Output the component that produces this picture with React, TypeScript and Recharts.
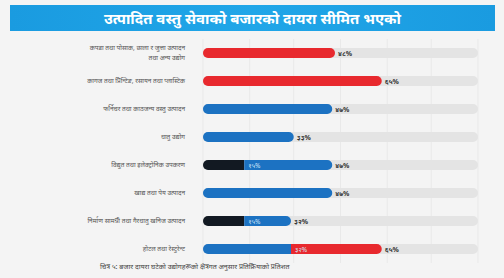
import React from 'react';
import { BarChart, Bar, XAxis, YAxis, CartesianGrid, LabelList } from 'recharts';

const categories = [
  ['कपडा तथा पोसाक, छाला र जुत्ता उत्पादन', 'तथा अन्य उद्योग'],
  ['कागज तथा प्रिन्टिङ, रसायन तथा प्लास्टिक'],
  ['फर्निचर तथा काठजन्य वस्तु उत्पादन'],
  ['धातु उद्योग'],
  ['विद्युत तथा इलेक्ट्रोनिक उपकरण'],
  ['खाद्य तथा पेय उत्पादन'],
  ['निर्माण सामग्री तथा गैरधातु खनिज उत्पादन'],
  ['होटल तथा रेस्टुरेन्ट'],
];
const firstPart = [48, 65, 47, 33, 15, 47, 15, 32];
const secondPart = [0, 0, 0, 0, 32, 0, 17, 33];
const firstColor = ['red', 'red', 'blue', 'blue', 'black', 'blue', 'black', 'blue'];
const secondColor = ['', '', '', '', 'blue', '', 'blue', 'red'];

const COLORS: Record<string, string> = {
  red: '#e8292e',
  blue: '#1c72c2',
  black: '#121922',
};

const toDev = (n: number) =>
  String(n).replace(/[0-9]/g, (d) => '०१२३४५६७८९'[Number(d)]);

const data = categories.map((c, i) => ({
  name: c.join('|'),
  a: firstPart[i],
  b: secondPart[i],
  total: firstPart[i] + secondPart[i],
}));

const FONT = '"Noto Sans", "DejaVu Sans", sans-serif';

// rounded only on the outer ends of the stack
function Segment(props: any) {
  const { x, y, width, height, index, dataKey } = props;
  if (!width || width <= 0) return null;
  const row = data[index];
  const isA = dataKey === 'a';
  const fill = COLORS[isA ? firstColor[index] : secondColor[index]];
  const r = height / 2;
  const roundLeft = isA;
  const roundRight = isA ? row.b === 0 : true;
  const rl = roundLeft ? Math.min(r, width / 2) : 0;
  const rr = roundRight ? Math.min(r, width / 2) : 0;
  const d = `M${x + rl},${y} H${x + width - rr} A${rr},${rr} 0 0 1 ${x + width},${y + rr} V${y + height - rr} A${rr},${rr} 0 0 1 ${x + width - rr},${y + height} H${x + rl} A${rl},${rl} 0 0 1 ${x},${y + height - rl} V${y + rl} A${rl},${rl} 0 0 1 ${x + rl},${y} Z`;
  return <path d={d} fill={fill} />;
}

function Track(props: any) {
  const { x, y, width, height } = props;
  return <rect x={x} y={y} width={width} height={height} rx={height / 2} fill="#e4e4e4" />;
}

function CategoryTick(props: any) {
  const { x, y, payload } = props;
  const lines = String(payload.value).split('|');
  const start = y - ((lines.length - 1) * 10) / 2;
  return (
    <text x={x - 10} textAnchor="end" fontSize={6.5} fill="#555" fontFamily={FONT}>
      {lines.map((l, i) => (
        <tspan key={i} x={x - 10} y={start + i * 10 + 2}>
          {l}
        </tspan>
      ))}
    </text>
  );
}

function TotalLabel(props: any) {
  const { x, y, width, height, index } = props;
  const row = data[index];
  const end = x + (width * row.total) / row.a;
  return (
    <text x={end + 3} y={y + height / 2 + 2.5} fontSize={7} fontWeight={700} fill="#333" fontFamily={FONT}>
      {toDev(row.total)}%
    </text>
  );
}

function InnerLabel(props: any) {
  const { x, y, width, height, index } = props;
  const row = data[index];
  if (row.b === 0) return null;
  return (
    <text x={x + width + 4} y={y + height / 2 + 2.5} fontSize={6.5} fill="#cfe3f7" fontFamily={FONT}>
      {toDev(row.a)}%
    </text>
  );
}

export default function App() {
  return (
    <div
      style={{
        position: 'fixed',
        left: 0,
        top: 0,
        width: 504,
        height: 278,
        background: '#f4f4f4',
        fontFamily: FONT,
        overflow: 'hidden',
      }}
    >
      <div
        style={{
          position: 'absolute',
          left: 10,
          top: 5,
          width: 485,
          height: 26,
          background: 'linear-gradient(90deg, #1a9be0, #20a6e8 50%, #1a9be0)',
          color: '#fff',
          fontSize: 15,
          fontWeight: 700,
          textAlign: 'center',
          lineHeight: '26px',
        }}
      >
        उत्पादित वस्तु सेवाको बजारको दायरा सीमित भएको
      </div>
      <div style={{ position: 'absolute', left: 0, top: 0 }}>
        <BarChart
          width={504}
          height={278}
          data={data}
          layout="vertical"
          barSize={10}
          margin={{ top: 39, right: 26, bottom: 15, left: 0 }}
        >
          <CartesianGrid horizontal={false} stroke="#e9e9e9" />
          <XAxis type="number" domain={[0, 100]} hide ticks={[0, 17, 33, 50, 67, 83, 100]} />
          <YAxis
            type="category"
            dataKey="name"
            width={203}
            axisLine={false}
            tickLine={false}
            tick={<CategoryTick />}
            interval={0}
          />
          <Bar
            dataKey="a"
            stackId="s"
            isAnimationActive={false}
            shape={<Segment dataKey="a" />}
            background={<Track />}
          >
            <LabelList dataKey="a" content={<TotalLabel />} />
            <LabelList dataKey="a" content={<InnerLabel />} />
          </Bar>
          <Bar dataKey="b" stackId="s" isAnimationActive={false} shape={<Segment dataKey="b" />} />
        </BarChart>
      </div>
      <div
        style={{
          position: 'absolute',
          left: 100,
          top: 262,
          fontSize: 7,
          color: '#444',
          whiteSpace: 'nowrap',
        }}
      >
        चित्र ५: बजार दायरा घटेको उद्योगहरूको क्षेत्रगत अनुसार प्रतिक्रियाको प्रतिशत
      </div>
    </div>
  );
}
